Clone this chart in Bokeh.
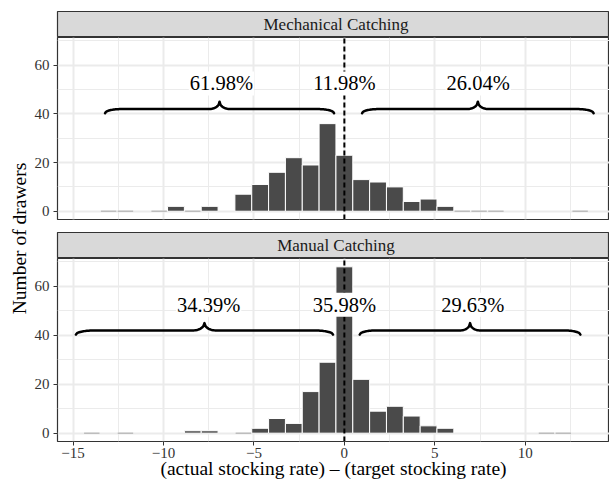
import numpy as np
from bokeh.plotting import figure
from bokeh.layouts import row, column
from bokeh.models import ColumnDataSource, FixedTicker, Range1d, Grid
from bokeh.core.properties import value
from bokeh.embed import file_html
from bokeh.resources import INLINE

# ---------------- data ----------------
BIN_WIDTH = 27 / 29          # ggplot default bins=30 over data range -14..13

strip_labels = ["Mechanical Catching", "Manual Catching"]

mech_bins = [-10, -8, -6, -5, -4, -3, -2, -1, 0, 1, 2, 3, 4, 5, 6]
mech_counts = [2, 2, 7, 11, 16, 22, 19, 36, 23, 13, 12, 10, 4, 5, 2]
mech_empty_bins = [-14, -13, -11, -9, 7, 8, 9, 14]

manual_bins = [-9, -8, -5, -4, -3, -2, -1, 0, 1, 2, 3, 4, 5, 6]
manual_counts = [1, 1, 2, 6, 4, 17, 29, 68, 22, 9, 11, 7, 3, 2]
manual_empty_bins = [-15, -13, -6, 12, 13]

mech_pct_text = ["61.98%", "11.98%", "26.04%"]
mech_pct_x = [-6.8, 0.0, 7.4]
manual_pct_text = ["34.39%", "35.98%", "29.63%"]
manual_pct_x = [-7.5, 0.0, 7.1]
pct_y = 52.5

mech_brace_start = [-13.23, 0.98]
mech_brace_end = [-0.57, 13.78]
manual_brace_start = [-14.84, 0.85]
manual_brace_end = [-0.63, 13.05]
brace_end_y = 40.3
brace_flat_y = 42.0
brace_tip_y = 45.0

x_major = [-15, -10, -5, 0, 5, 10]
x_minor = [-12.5, -7.5, -2.5, 2.5, 7.5, 12.5]
y_major = [0, 20, 40, 60]
y_minor = [10, 30, 50, 70]

# ---------------- style ----------------
FONT = "Liberation Serif"
PX_PER_UNIT = 18.12
LEFT_LAB_W = 31
BORDER_L = 25
FRAME_W = 609 - LEFT_LAB_W - BORDER_L
X_START = -15.86
X_END = X_START + FRAME_W / PX_PER_UNIT
STRIP_CENTER_X = (-15.83 + 14.9) / 2
Y_START, Y_END = -3.4, 71.4
BAR_FILL = "#4a4a4a"
GRID = "#ebebeb"
DARK = "#333333"


def brace_path(xa, xb, y0, y1, y2, a=0.15, b=0.09, n=120):
    """curly brace from xa to xb: ends at y0, flat at y1, tip at y2"""
    xm = (xa + xb) / 2.0
    u = np.linspace(0, 1, n)
    r1 = np.where(u < a, np.sqrt(np.clip(1 - (1 - u / a) ** 2, 0, 1)), 1.0)
    r2 = np.where(u > 1 - b, 1 - np.sqrt(np.clip(1 - ((u - (1 - b)) / b) ** 2, 0, 1)), 0.0)
    yh = y0 + (y1 - y0) * r1 + (y2 - y1) * r2
    xl = xa + (xm - xa) * u
    xr = xb - (xb - xm) * u
    xs = np.concatenate([xl, xr[::-1]])
    ys = np.concatenate([yh, yh[::-1]])
    return xs, ys


def make_strip(label, height, top):
    s = figure(width=BORDER_L + FRAME_W, height=height, x_range=Range1d(X_START, X_END),
               y_range=Range1d(0, 1), toolbar_location=None, output_backend="svg",
               x_axis_location=None, y_axis_location=None,
               min_border_left=BORDER_L, min_border_right=0,
               min_border_top=top, min_border_bottom=0)
    s.background_fill_color = "#d9d9d9"
    s.outline_line_color = DARK
    s.outline_line_width = 1.2
    s.grid.visible = False
    s.text(x=[STRIP_CENTER_X], y=[0.5], text=[label], text_font=value(FONT),
           text_font_size="17px", text_align="center", text_baseline="middle",
           text_color="#1a1a1a")
    return s


def make_panel(bins, counts, empty_bins, pct_x, pct_text, b_start, b_end,
               height, bottom, with_xaxis):
    p = figure(width=BORDER_L + FRAME_W, height=height,
               x_range=Range1d(X_START, X_END), y_range=Range1d(Y_START, Y_END),
               toolbar_location=None, output_backend="svg",
               x_axis_location="below" if with_xaxis else None,
               min_border_left=BORDER_L, min_border_right=0,
               min_border_top=0, min_border_bottom=bottom)
    p.outline_line_color = DARK
    p.outline_line_width = 1.2
    p.background_fill_color = "white"
    p.border_fill_color = "white"
    for g in list(p.grid):
        g.visible = False
    xg = Grid(dimension=0, ticker=FixedTicker(ticks=x_major, minor_ticks=x_minor),
              grid_line_color=GRID, grid_line_width=2,
              minor_grid_line_color=GRID, minor_grid_line_width=1)
    yg = Grid(dimension=1, ticker=FixedTicker(ticks=y_major, minor_ticks=y_minor),
              grid_line_color=GRID, grid_line_width=2,
              minor_grid_line_color=GRID, minor_grid_line_width=1)
    p.add_layout(xg)
    p.add_layout(yg)
    yax = p.yaxis[0]
    yax.ticker = FixedTicker(ticks=y_major, minor_ticks=y_minor)
    yax.axis_line_color = None
    yax.major_tick_line_color = DARK
    yax.major_tick_out = 4
    yax.major_tick_in = 0
    yax.minor_tick_line_color = None
    yax.major_label_text_font = FONT
    yax.major_label_text_font_size = "15px"
    yax.major_label_text_color = "#333333"
    yax.major_label_standoff = 4
    if with_xaxis:
        xax = p.xaxis[0]
        xax.ticker = FixedTicker(ticks=x_major, minor_ticks=x_minor)
        xax.major_label_overrides = {t: (str(t).replace("-", "\u2212")) for t in x_major}
        xax.axis_line_color = None
        xax.major_tick_line_color = DARK
        xax.major_tick_out = 4
        xax.major_tick_in = 0
        xax.minor_tick_line_color = None
        xax.major_label_text_font = FONT
        xax.major_label_text_font_size = "15px"
        xax.major_label_text_color = "#333333"
        xax.major_label_standoff = 2
        xax.axis_label = "(actual stocking rate) \u2013 (target stocking rate)"
        xax.axis_label_text_font = FONT
        xax.axis_label_text_font_size = "19.5px"
        xax.axis_label_text_font_style = "normal"
        xax.axis_label_text_color = "black"
        xax.axis_label_standoff = -3

    centers = np.array(bins) * BIN_WIDTH
    src = ColumnDataSource(dict(left=centers - BIN_WIDTH / 2, right=centers + BIN_WIDTH / 2,
                                top=counts, bottom=[0] * len(counts)))
    p.quad(left="left", right="right", top="top", bottom="bottom", source=src,
           fill_color=BAR_FILL, line_color="white", line_width=1)
    ec = np.array(empty_bins) * BIN_WIDTH
    esrc = ColumnDataSource(dict(x0=ec - BIN_WIDTH / 2 + 0.04, x1=ec + BIN_WIDTH / 2 - 0.04,
                                 y=[0] * len(empty_bins)))
    p.segment(x0="x0", y0="y", x1="x1", y1="y", source=esrc, line_color="#bdbdbd", line_width=1.5)

    p.segment(x0=[0], y0=[Y_START], x1=[0], y1=[Y_END], line_color="black",
              line_width=2, line_dash="5 3")

    p.text(x=pct_x, y=[pct_y] * 3, text=pct_text, text_font=value(FONT),
           text_font_size="20.5px", text_align="center", text_baseline="middle",
           text_color="black", background_fill_color="white", padding=1)

    for xa, xb in zip(b_start, b_end):
        xs, ys = brace_path(xa, xb, brace_end_y, brace_flat_y, brace_tip_y)
        p.line(xs, ys, line_color="black", line_width=2.5, line_cap="round", line_join="round")
    return p


STRIP1_H, P1_H, STRIP2_H, P2_H = 37, 195, 26, 230
strip1 = make_strip(strip_labels[0], STRIP1_H, 11)
p1 = make_panel(mech_bins, mech_counts, mech_empty_bins, mech_pct_x, mech_pct_text,
                mech_brace_start, mech_brace_end, P1_H, 13, False)
strip2 = make_strip(strip_labels[1], STRIP2_H, 0)
p2 = make_panel(manual_bins, manual_counts, manual_empty_bins, manual_pct_x, manual_pct_text,
                manual_brace_start, manual_brace_end, P2_H, 47, True)

TOTAL_H = STRIP1_H + P1_H + STRIP2_H + P2_H
ylab = figure(width=LEFT_LAB_W, height=TOTAL_H, x_range=Range1d(0, LEFT_LAB_W),
              y_range=Range1d(0, TOTAL_H), toolbar_location=None, output_backend="svg",
              x_axis_location=None, y_axis_location=None, min_border=0)
ylab.outline_line_color = None
ylab.grid.visible = False
ylab.text(x=[19], y=[TOTAL_H - 238], text=["Number of drawers"], text_font=value(FONT),
          text_font_size="19.5px", text_align="center", text_baseline="middle",
          angle=np.pi / 2, text_color="black")

layout = row(ylab, column(strip1, p1, strip2, p2))

open("out.html", "w").write(file_html(layout, INLINE))
